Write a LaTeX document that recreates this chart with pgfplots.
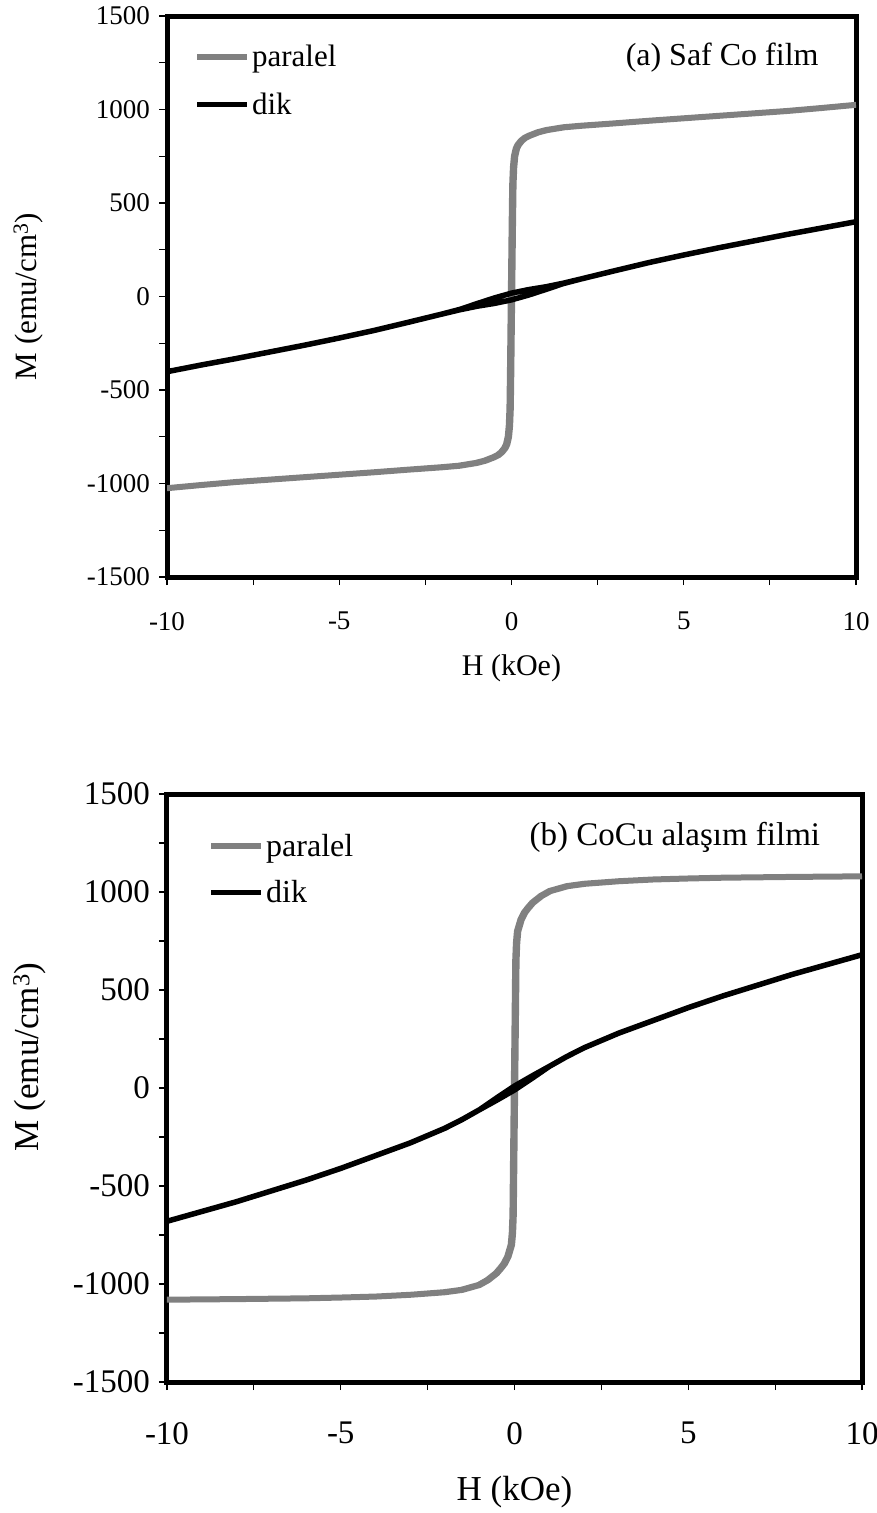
\documentclass[border=0pt]{standalone}
\usepackage{fontspec}
\setmainfont{Liberation Serif}
\usepackage{pgfplots}
\pgfplotsset{compat=1.18}
\definecolor{pgray}{RGB}{128,128,128}

\pgfplotsset{
 myax/.style={
  scale only axis,
  xmin=-10, xmax=10, ymin=-1500, ymax=1500,
  xtick={-10,-5,0,5,10}, xticklabels={-10,-5,0,5,10},
  ytick={-1500,-1000,-500,0,500,1000,1500},
  yticklabels={-1500,-1000,-500,0,500,1000,1500},
  minor xtick={-7.5,-2.5,2.5,7.5},
  minor ytick={-1250,-750,-250,250,750,1250},
  tick align=outside, xtick pos=left, ytick pos=left,
  major tick length=8pt, minor tick length=8pt,
  every tick/.style={black, line width=1.2pt},
  axis line style={line width=5pt, line cap=rect},
  xticklabel style={anchor=north, inner sep=0pt},
  yticklabel style={anchor=east, inner sep=0pt},
  legend cell align=left,
  legend image code/.code={\draw[##1, line cap=butt] (0pt,0pt) -- (50pt,0pt);},
 },
 par/.style={pgray, line width=6pt, line join=round},
 dik/.style={black, line width=5.5pt, line join=round},
}

\begin{document}
\begin{tikzpicture}[x=1pt,y=1pt]
\useasboundingbox (0,0) rectangle (877,-1513);

% ---------------- (a) ----------------
\begin{axis}[myax,
  at={(167pt,-16pt)}, anchor=north west,
  width=689pt, height=561pt,
  ticklabel style={font=\fontsize{27}{27}\selectfont},
  xticklabel shift=27pt, yticklabel shift=9pt,
  xlabel={H (kOe)}, ylabel={M (emu/cm\textsuperscript{3})},
  xlabel style={font=\fontsize{30}{30}\selectfont, at={(axis description cs:0.5,-0.163)}, anchor=center},
  ylabel style={font=\fontsize{31}{31}\selectfont, at={(axis description cs:-0.201,0.5)}, anchor=center},
  legend style={draw=none, fill=none, at={(axis description cs:0.039,0.952)}, anchor=north west,
    font=\fontsize{31}{31}\selectfont, row sep=21pt, inner sep=0pt},
]
\addplot[par] table {
10 1025
9 1008
8 992
7 979
6 966
5 953
4 940
3 926
2 913
1.5 905
1 890
0.75 878
0.5 860
0.37 848
0.27 833
0.17 810
0.12 790
0.07 750
0.04 690
0.02 600
0.005 400
-0.02 0
-0.045 -400
-0.06 -600
-0.08 -690
-0.11 -750
-0.16 -790
-0.21 -810
-0.31 -833
-0.41 -848
-0.54 -860
-0.79 -878
-1.04 -890
-1.54 -905
-2.04 -913
-3 -926
-4 -940
-5 -953
-6 -966
-7 -979
-8 -992
-9 -1008
-10 -1025
-9 -1008
-8 -992
-7 -979
-6 -966
-5 -953
-4 -940
-3 -926
-2 -913
-1.5 -905
-1 -890
-0.75 -878
-0.5 -860
-0.37 -848
-0.27 -833
-0.17 -810
-0.12 -790
-0.07 -750
-0.04 -690
-0.02 -600
-0.005 -400
0.02 0
0.045 400
0.06 600
0.08 690
0.11 750
0.16 790
0.21 810
0.31 833
0.41 848
0.54 860
0.79 878
1.04 890
1.54 905
2.04 913
3 926
4 940
5 953
6 966
7 979
8 992
9 1008
10 1025
};
\addlegendentry{paralel}
\addplot[dik] table {
10 400
9 366
8 332
7 296
6 260
5 222
4 182
3 138
2 93
1.5 71
1 52
0.5 37
0 18
-0.5 -8
-1 -38
-1.5 -69
-2 -93
-3 -138
-4 -182
-5 -222
-6 -260
-7 -296
-8 -332
-9 -366
-10 -402
-9 -366
-8 -332
-7 -296
-6 -260
-5 -222
-4 -182
-3 -138
-2 -93
-1.5 -71
-1 -52
-0.5 -37
0 -18
0.5 8
1 38
1.5 69
2 93
3 138
4 182
5 222
6 260
7 296
8 332
9 366
10 400
};
\addlegendentry{dik}
\node[anchor=east, font=\fontsize{32}{32}\selectfont, inner sep=0pt] at (axis description cs:0.946,0.925) {(a) Saf Co film};
\end{axis}

% ---------------- (b) ----------------
\begin{axis}[myax,
  at={(167pt,-794pt)}, anchor=north west,
  width=695pt, height=588pt,
  ticklabel style={font=\fontsize{33}{33}\selectfont},
  xticklabel shift=32pt, yticklabel shift=9pt,
  xlabel={H (kOe)}, ylabel={M (emu/cm\textsuperscript{3})},
  label style={font=\fontsize{35}{35}\selectfont},
  xlabel style={at={(axis description cs:0.5,-0.187)}, anchor=center},
  ylabel style={at={(axis description cs:-0.198,0.553)}, anchor=center},
  legend style={draw=none, fill=none, at={(axis description cs:0.059,0.936)}, anchor=north west,
    font=\fontsize{32}{32}\selectfont, row sep=19pt, inner sep=0pt},
]
\addplot[par] table {
10 1080
8 1077
7 1075
6 1073
5 1069
4 1064
3 1055
2 1042
1.5 1030
1 1005
0.75 980
0.5 945
0.37 918
0.27 895
0.17 860
0.12 830
0.07 800
0.04 740
0.02 650
0.005 400
-0.02 0
-0.045 -400
-0.06 -650
-0.08 -740
-0.11 -800
-0.16 -830
-0.21 -860
-0.31 -895
-0.41 -918
-0.54 -945
-0.79 -980
-1.04 -1005
-1.54 -1030
-2.04 -1042
-3 -1055
-4 -1064
-5 -1069
-6 -1073
-7 -1075
-8 -1077
-10 -1080
-8 -1077
-7 -1075
-6 -1073
-5 -1069
-4 -1064
-3 -1055
-2 -1042
-1.5 -1030
-1 -1005
-0.75 -980
-0.5 -945
-0.37 -918
-0.27 -895
-0.17 -860
-0.12 -830
-0.07 -800
-0.04 -740
-0.02 -650
-0.005 -400
0.02 0
0.045 400
0.06 650
0.08 740
0.11 800
0.16 830
0.21 860
0.31 895
0.41 918
0.54 945
0.79 980
1.04 1005
1.54 1030
2.04 1042
3 1055
4 1064
5 1069
6 1073
7 1075
8 1077
10 1080
};
\addlegendentry{paralel}
\addplot[dik] table {
10 680
9 630
8 580
7 525
6 470
5 410
4 345
3 280
2 205
1.5 160
1 110
0.5 61
0 10
-0.5 -49
-1 -110
-1.5 -160
-2 -205
-3 -280
-4 -345
-5 -410
-6 -470
-7 -525
-8 -580
-9 -630
-10 -680
-9 -630
-8 -580
-7 -525
-6 -470
-5 -410
-4 -345
-3 -280
-2 -205
-1.5 -160
-1 -110
-0.5 -61
0 -10
0.5 49
1 110
1.5 160
2 205
3 280
4 345
5 410
6 470
7 525
8 580
9 630
10 680
};
\addlegendentry{dik}
\node[anchor=east, font=\fontsize{33}{33}\selectfont, inner sep=0pt] at (axis description cs:0.94,0.927) {(b) CoCu alaşım filmi};
\end{axis}
\end{tikzpicture}
\end{document}
